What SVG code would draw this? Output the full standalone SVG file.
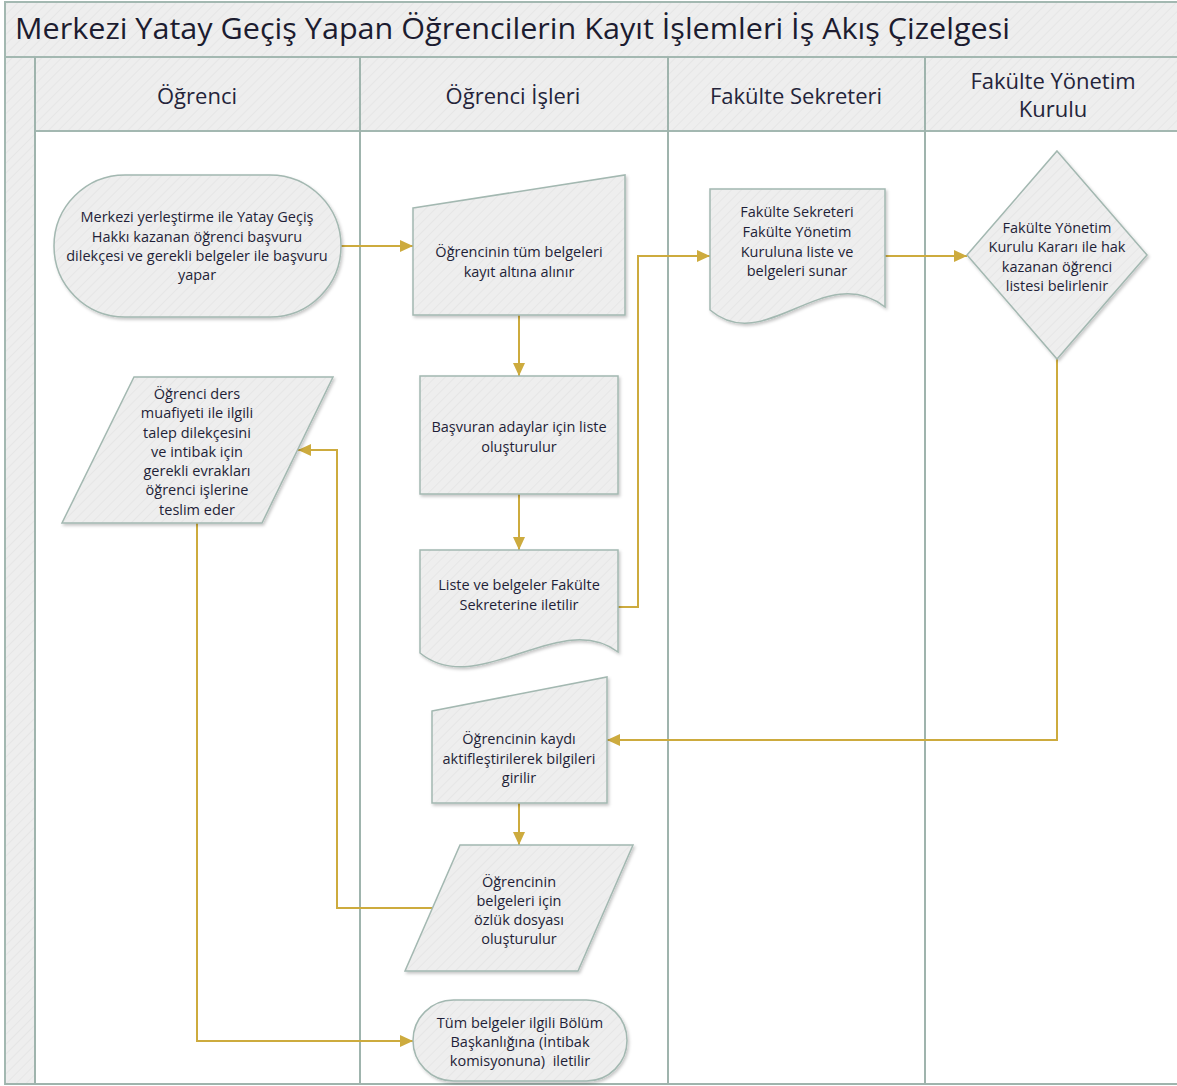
<svg xmlns="http://www.w3.org/2000/svg" width="1177" height="1086" viewBox="0 0 1177 1086">
<defs>
<pattern id="hatch" patternUnits="userSpaceOnUse" width="7" height="7" patternTransform="rotate(45)">
<rect width="7" height="7" fill="#eeeeee"/>
<line x1="0" y1="0" x2="0" y2="7" stroke="#e6e6e6" stroke-width="2"/>
</pattern>
<filter id="sh" x="-10%" y="-10%" width="125%" height="125%">
<feDropShadow dx="1.5" dy="2" stdDeviation="1.5" flood-color="#000" flood-opacity="0.22"/>
</filter>
<marker id="arr" markerUnits="userSpaceOnUse" markerWidth="13" markerHeight="12" refX="13" refY="6" orient="auto">
<path d="M0,0 L13,6 L0,12 Z" fill="#cdab3e"/>
</marker>
</defs>
<style>
.band{fill:url(#hatch);stroke:#a3b8b1;stroke-width:2}
.lane{fill:none;stroke:#9fb4ad;stroke-width:2}
.node{fill:url(#hatch);stroke:#a3b8b1;stroke-width:1.5;filter:url(#sh)}
.conn{fill:none;stroke:#cdab3e;stroke-width:2}
.title{font-family:"Open Sans","Noto Sans",sans-serif;font-size:29.5px;fill:#1c1c30}
.hdr{font-family:"Open Sans","Noto Sans",sans-serif;font-size:22px;fill:#24243a;text-anchor:middle;dominant-baseline:central}
.t{font-family:"Open Sans","Noto Sans",sans-serif;font-size:14.5px;fill:#1f1f38;text-anchor:middle;dominant-baseline:central}
</style>
<rect x="0" y="0" width="1177" height="1086" fill="#ffffff"/>
<g id="pool">
<rect class="band" x="5" y="2" width="1180" height="55"/>
<rect class="band" x="5" y="57" width="30" height="1027"/>
<rect class="band" x="35" y="57" width="1150" height="74"/>
<line class="lane" x1="35" y1="57" x2="35" y2="1084"/>
<line class="lane" x1="360" y1="57" x2="360" y2="1084"/>
<line class="lane" x1="668" y1="57" x2="668" y2="1084"/>
<line class="lane" x1="925" y1="57" x2="925" y2="1084"/>
<line class="lane" x1="5" y1="1084" x2="1177" y2="1084"/>
<text class="title" x="15" y="39" textLength="995" lengthAdjust="spacingAndGlyphs">Merkezi Yatay Geçiş Yapan Öğrencilerin Kayıt İşlemleri İş Akış Çizelgesi</text>
<text class="hdr" x="197" y="95">Öğrenci</text>
<text class="hdr" x="513" y="95">Öğrenci İşleri</text>
<text class="hdr" x="796" y="95">Fakülte Sekreteri</text>
<text class="hdr" x="1053" y="80">Fakülte Yönetim</text>
<text class="hdr" x="1053" y="108">Kurulu</text>
</g>
<g id="connectors">
<path class="conn" d="M341,246 H413" marker-end="url(#arr)"/>
<path class="conn" d="M519,315 V376" marker-end="url(#arr)"/>
<path class="conn" d="M519,494 V550" marker-end="url(#arr)"/>
<path class="conn" d="M618,607 H638 V256 H710" marker-end="url(#arr)"/>
<path class="conn" d="M885,256 H967" marker-end="url(#arr)"/>
<path class="conn" d="M1057,359 V740 H607" marker-end="url(#arr)"/>
<path class="conn" d="M519,803 V845" marker-end="url(#arr)"/>
<path class="conn" d="M432,908 H337 V450 H298" marker-end="url(#arr)"/>
<path class="conn" d="M197,523 V1041 H413" marker-end="url(#arr)"/>
</g>
<g id="n1">
<rect class="node" x="54" y="175" width="287" height="142" rx="71" ry="71"/>
<text class="t" x="197" y="216">Merkezi yerleştirme ile Yatay Geçiş</text>
<text class="t" x="197" y="236">Hakkı kazanan öğrenci başvuru</text>
<text class="t" x="197" y="255">dilekçesi ve gerekli belgeler ile başvuru</text>
<text class="t" x="197" y="274">yapar</text>
</g>
<g id="n2">
<polygon class="node" points="413,208 625,175 625,315 413,315"/>
<text class="t" x="519" y="251">Öğrencinin tüm belgeleri</text>
<text class="t" x="519" y="271">kayıt altına alınır</text>
</g>
<g id="n3">
<rect class="node" x="420" y="376" width="198" height="118"/>
<text class="t" x="519" y="426">Başvuran adaylar için liste</text>
<text class="t" x="519" y="446">oluşturulur</text>
</g>
<g id="n4">
<path class="node" d="M420,550 H618 V652 C560,608 478,700 420,653 Z"/>
<text class="t" x="519" y="584">Liste ve belgeler Fakülte</text>
<text class="t" x="519" y="604">Sekreterine iletilir</text>
</g>
<g id="n5">
<path class="node" d="M710,189 H885 V307 C825,260 765,357 710,310 Z"/>
<text class="t" x="797" y="211">Fakülte Sekreteri</text>
<text class="t" x="797" y="231">Fakülte Yönetim</text>
<text class="t" x="797" y="251">Kuruluna liste ve</text>
<text class="t" x="797" y="270">belgeleri sunar</text>
</g>
<g id="n6">
<polygon class="node" points="1057,151 1147,255 1057,359 967,255"/>
<text class="t" x="1057" y="227">Fakülte Yönetim</text>
<text class="t" x="1057" y="246">Kurulu Kararı ile hak</text>
<text class="t" x="1057" y="266">kazanan öğrenci</text>
<text class="t" x="1057" y="285">listesi belirlenir</text>
</g>
<g id="n7">
<polygon class="node" points="432,711 607,677 607,803 432,803"/>
<text class="t" x="519" y="738">Öğrencinin kaydı</text>
<text class="t" x="519" y="758">aktifleştirilerek bilgileri</text>
<text class="t" x="519" y="777">girilir</text>
</g>
<g id="n8">
<polygon class="node" points="460,845 633,845 578,971 405,971"/>
<text class="t" x="519" y="881">Öğrencinin</text>
<text class="t" x="519" y="900">belgeleri için</text>
<text class="t" x="519" y="919">özlük dosyası</text>
<text class="t" x="519" y="938">oluşturulur</text>
</g>
<g id="n9">
<polygon class="node" points="134,377 333,377 262,523 62,523"/>
<text class="t" x="197" y="393">Öğrenci ders</text>
<text class="t" x="197" y="412">muafiyeti ile ilgili</text>
<text class="t" x="197" y="432">talep dilekçesini</text>
<text class="t" x="197" y="451">ve intibak için</text>
<text class="t" x="197" y="470">gerekli evrakları</text>
<text class="t" x="197" y="489">öğrenci işlerine</text>
<text class="t" x="197" y="509">teslim eder</text>
</g>
<g id="n10">
<rect class="node" x="413" y="1000" width="214" height="81" rx="40.5" ry="40.5"/>
<text class="t" x="520" y="1022">Tüm belgeler ilgili Bölüm</text>
<text class="t" x="520" y="1041">Başkanlığına (İntibak</text>
<text class="t" x="520" y="1060" xml:space="preserve">komisyonuna)  iletilir</text>
</g>
</svg>
